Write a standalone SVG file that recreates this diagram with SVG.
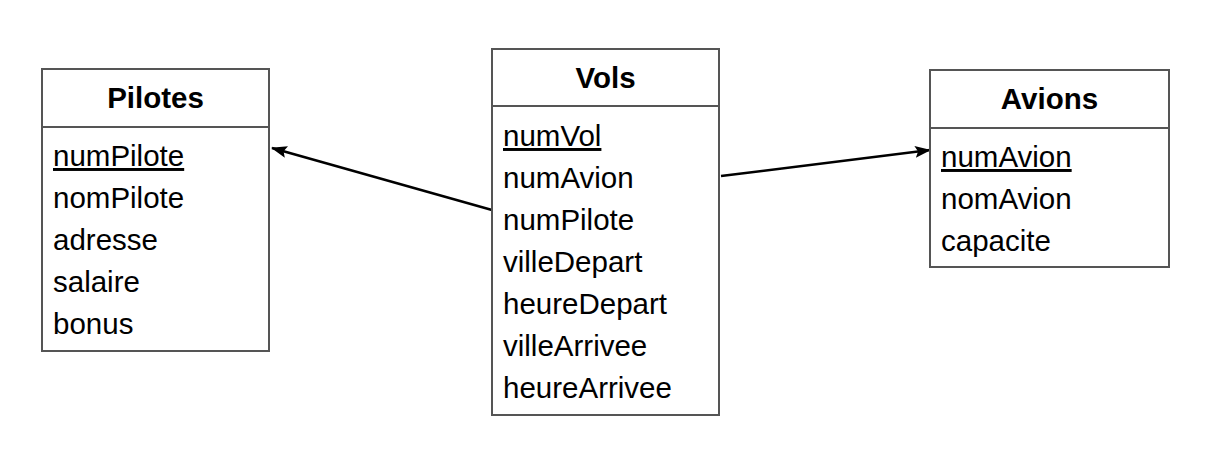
<svg xmlns="http://www.w3.org/2000/svg" width="1210" height="460" viewBox="0 0 1210 460">
<style>
.box{fill:#fff;stroke:#555;stroke-width:2}
.div{stroke:#555;stroke-width:2}
.h{font-family:"Liberation Sans",Arial,sans-serif;font-weight:bold;font-size:29.5px;text-anchor:middle;fill:#000}
.a{font-family:"Liberation Sans",Arial,sans-serif;font-size:29.5px;fill:#000}
.u{text-decoration:underline}
</style>
<defs>
<marker id="arr2" markerWidth="16" markerHeight="12" refX="15" refY="6" orient="auto" markerUnits="userSpaceOnUse" viewBox="0 0 16 12">
<path d="M0,0 L16,6 L0,12 L3,6 Z" fill="#000"/>
</marker>
</defs>
<g id="connectors">
<line x1="492" y1="210" x2="272" y2="148" stroke="#000" stroke-width="2.5" marker-end="url(#arr2)"/>
<line x1="721" y1="176" x2="930" y2="150" stroke="#000" stroke-width="2.5" marker-end="url(#arr2)"/>
</g>
<g id="pilotes">
<rect class="box" x="42" y="69" width="227" height="282"/>
<line class="div" x1="42" y1="127" x2="269" y2="127"/>
<text class="h" x="155.5" y="108">Pilotes</text>
<text class="a u" x="53" y="166">numPilote</text>
<text class="a" x="53" y="208">nomPilote</text>
<text class="a" x="53" y="250">adresse</text>
<text class="a" x="53" y="292">salaire</text>
<text class="a" x="53" y="334">bonus</text>
</g>
<g id="vols">
<rect class="box" x="492" y="49" width="227" height="366"/>
<line class="div" x1="492" y1="106" x2="719" y2="106"/>
<text class="h" x="605.5" y="88">Vols</text>
<text class="a u" x="503" y="146">numVol</text>
<text class="a" x="503" y="188">numAvion</text>
<text class="a" x="503" y="230">numPilote</text>
<text class="a" x="503" y="272">villeDepart</text>
<text class="a" x="503" y="314">heureDepart</text>
<text class="a" x="503" y="356">villeArrivee</text>
<text class="a" x="503" y="398">heureArrivee</text>
</g>
<g id="avions">
<rect class="box" x="930" y="70" width="239" height="197"/>
<line class="div" x1="930" y1="128" x2="1169" y2="128"/>
<text class="h" x="1049.5" y="109">Avions</text>
<text class="a u" x="941" y="167">numAvion</text>
<text class="a" x="941" y="209">nomAvion</text>
<text class="a" x="941" y="251">capacite</text>
</g>
</svg>
